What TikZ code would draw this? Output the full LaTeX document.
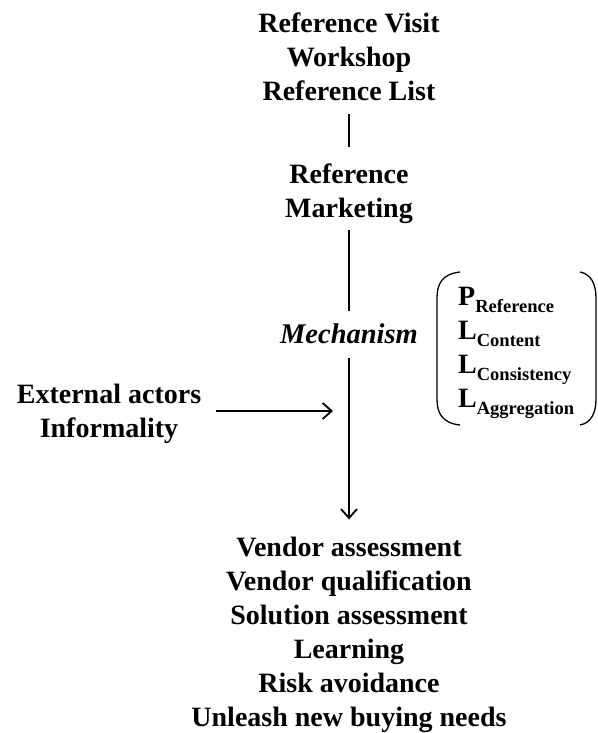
\documentclass[tikz,border=0pt]{standalone}
\usepackage{fontspec}
\setmainfont{Liberation Serif}
\usepackage{tikz}
\usetikzlibrary{arrows.meta, positioning, calc}

\newcommand{\lvsub}[1]{\raisebox{-7pt}{\fontsize{18.5}{18.5}\selectfont #1}}

\begin{document}
\begin{tikzpicture}[
    x=1pt, y=-1pt,
    lbl/.style={font=\fontsize{28}{34}\selectfont\bfseries, align=center, inner sep=0pt},
    lvar/.style={font=\fontsize{28}{34}\selectfont\bfseries, align=left, inner sep=0pt},
    link/.style={line width=2pt},
    flow/.style={line width=2pt, -{Straight Barb[length=9pt, width=16pt, line width=1.8pt]}},
    paren/.style={line width=1.3pt},
]
  \useasboundingbox (0,0) rectangle (597,733);

  \node[lbl, anchor=base] (refmethods) at (349,101) {Reference Visit\\Workshop\\Reference List};
  \node[lbl, anchor=base] (refmkt) at (349,217) {Reference\\Marketing};
  \node[lbl, anchor=base, font=\fontsize{28.5}{34}\selectfont\bfseries\itshape] (mech) at (349,343) {Mechanism};
  \node[lbl, anchor=base] (extern) at (109,437) {External actors\\Informality};
  \node[lbl, anchor=base] (outcomes) at (349,726) {Vendor assessment\\Vendor qualification\\Solution assessment\\Learning\\Risk avoidance\\Unleash new buying needs};
  \node[lvar, anchor=base west] (lvars) at (458,407) {P\lvsub{Reference}\\L\lvsub{Content}\\L\lvsub{Consistency}\\L\lvsub{Aggregation}};

  \coordinate (joint) at (349,411);

  \draw[link, shorten <=13pt, shorten >=16pt] (refmethods) -- (refmkt);
  \draw[link, shorten <=7pt, shorten >=12pt] (refmkt) -- (mech);
  \draw[flow, shorten <=15pt, shorten >=17pt] (mech) -- (outcomes);
  \draw[flow, shorten <=15pt, shorten >=16pt] (extern.east |- joint) -- (joint);

  \draw[paren] (460,272) .. controls (442,274) and (437,284) .. (437,298) -- (437,399) .. controls (437,413) and (442,423) .. (460,425);
  \draw[paren] (580,272) .. controls (591,274) and (596,284) .. (596,298) -- (596,399) .. controls (596,413) and (591,423) .. (580,425);
\end{tikzpicture}
\end{document}
